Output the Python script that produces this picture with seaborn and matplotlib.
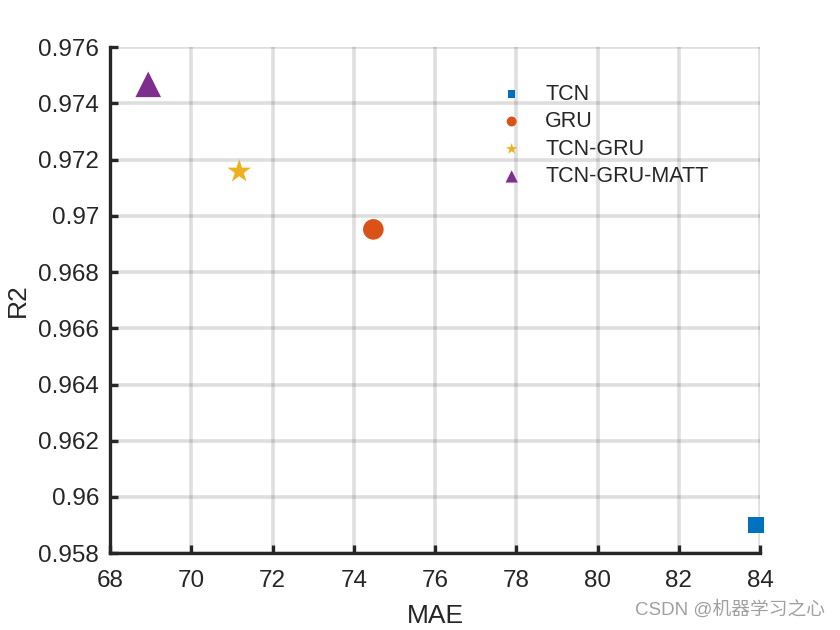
import matplotlib
matplotlib.use("Agg")
import matplotlib.pyplot as plt
import seaborn as sns
import pandas as pd

models = ["TCN", "GRU", "TCN-GRU", "TCN-GRU-MATT"]
mae = [83.9, 74.48, 71.18, 68.94]
r2 = [0.95900, 0.96952, 0.97158, 0.97468]
colors = ["#0072BD", "#D95319", "#EDB120", "#7E2F8E"]
markers = ["s", "o", "*", "^"]
sizes = [130, 220, 320, 340]
xticks = [68, 70, 72, 74, 76, 78, 80, 82, 84]
yticks = [0.958, 0.96, 0.962, 0.964, 0.966, 0.968, 0.97, 0.972, 0.974, 0.976]

sns.set_theme(style="white")
plt.rcParams["font.family"] = ["Liberation Sans", "Noto Sans CJK SC", "DejaVu Sans"]

df = pd.DataFrame({"MAE": mae, "R2": r2, "model": models})

fig = plt.figure(figsize=(8.4, 6.3), dpi=100)
ax = fig.add_axes([0.131, 0.122, 0.774, 0.803])

for m, c, mk, s in zip(models, colors, markers, sizes):
    sub = df[df["model"] == m]
    sns.scatterplot(data=sub, x="MAE", y="R2", ax=ax, color=c, marker=mk,
                    s=s, edgecolor="none", label=m, zorder=3, clip_on=False)

ax.set_xlim(68, 84)
ax.set_ylim(0.958, 0.976)
ax.set_xticks(xticks)
ax.set_xticklabels([str(v) for v in xticks])
ax.set_yticks(yticks)
ax.set_yticklabels([f"{v:g}" for v in yticks])
ax.grid(True, color="#262626", alpha=0.15, linewidth=2.6, zorder=0)
ax.set_axisbelow(True)
for side in ["top", "right"]:
    ax.spines[side].set_visible(False)
for side in ["left", "bottom"]:
    ax.spines[side].set_color("#262626")
    ax.spines[side].set_linewidth(2.4)
ax.tick_params(axis="both", direction="in", length=6, width=2.4, color="#262626",
               labelsize=17.5, labelcolor="#262626", left=True, bottom=True)
ax.tick_params(axis="x", pad=12)
ax.tick_params(axis="y", pad=8)
ax.set_xlabel("MAE", fontsize=19, color="#262626", labelpad=9)
ax.set_ylabel("R2", fontsize=19, color="#262626", labelpad=6)

leg = ax.legend(loc="upper left", bbox_to_anchor=(0.578, 0.945), frameon=False,
                fontsize=15.5, markerscale=0.48, handletextpad=0.75,
                labelspacing=0.3, borderaxespad=0, handlelength=1.6)

fig.text(0.982, 0.018, "CSDN @机器学习之心", ha="right", va="bottom",
         fontsize=13.5, color="#a0a0a0")

fig.savefig("out.png", dpi=100)
